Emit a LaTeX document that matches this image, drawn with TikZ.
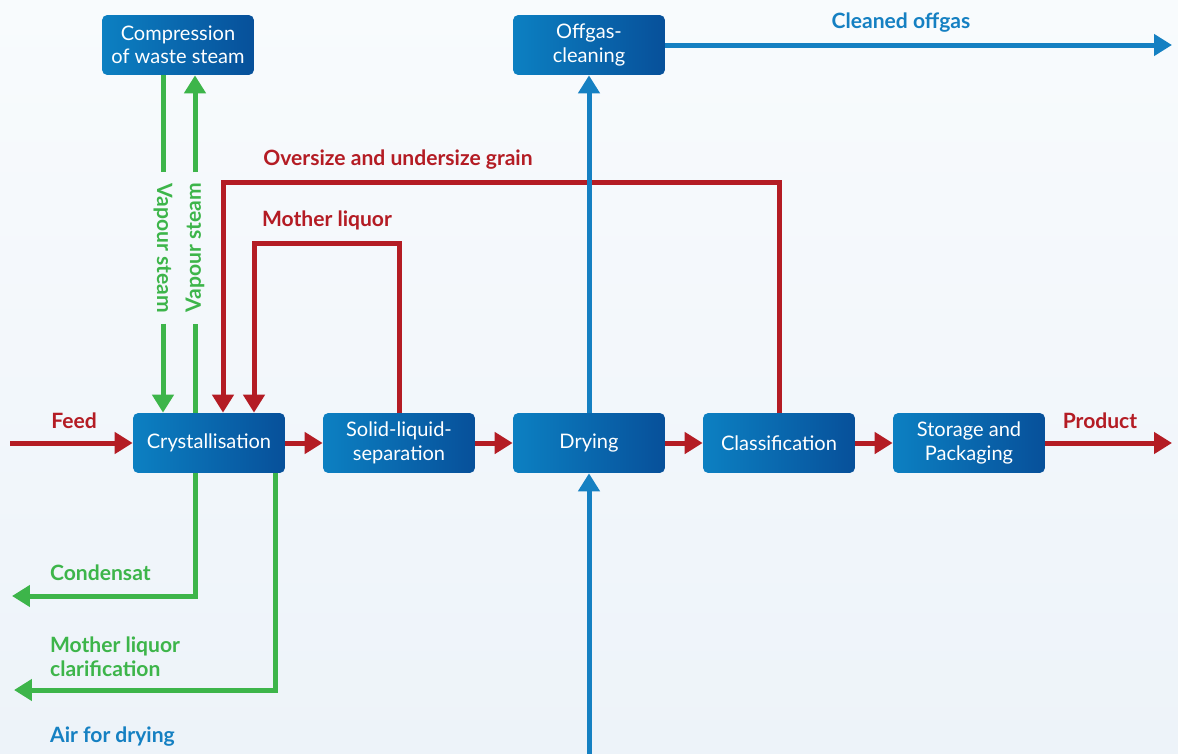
\documentclass[tikz,border=0pt]{standalone}
\usepackage{fontspec}
\setmainfont{Lato}
\usetikzlibrary{arrows.meta,positioning}
\definecolor{flowred}{HTML}{B41C24}
\definecolor{flowgreen}{HTML}{3DB54A}
\definecolor{flowblue}{HTML}{1580C2}
\definecolor{boxleft}{HTML}{0C80C2}
\definecolor{boxmid}{HTML}{0A72B7}
\definecolor{boxright}{HTML}{07509A}
\definecolor{bgtop}{HTML}{F8FBFD}
\definecolor{bgmid}{HTML}{DCE9F4}
\definecolor{bgbot}{HTML}{EDF3F9}
\begin{document}
\begin{tikzpicture}[x=0.02cm, y=-0.02cm,
    box/.style = {shape=rectangle, rounded corners=3pt, align=center,
      minimum width=3.04cm, minimum height=1.2cm, inner sep=1pt,
      left color=boxleft, middle color=boxmid, right color=boxright,
      text=white, font=\fontsize{11.4}{13.4}\selectfont},
    flow/.style = {line width=0.1cm, -{Triangle[length=0.36cm,width=0.42cm]}},
    plain/.style = {line width=0.1cm},
    lbl/.style = {font=\bfseries\fontsize{12}{13.6}\selectfont, align=left, inner sep=1pt}]
    % background
    \shade[top color=bgtop, middle color=bgmid, bottom color=bgbot]
      (0,0) rectangle (1178,754);
    \useasboundingbox (0,0) rectangle (1178,754);
    % process boxes
    \node[box] (comp)   at (178,45)  {Compression\\of waste steam};
    \node[box] (offgas) at (589,45)  {Offgas-\\cleaning};
    \node[box] (cryst)  at (209,443) {Crystallisation};
    \node[box] (slsep)  at (399,443) {Solid-liquid-\\separation};
    \node[box] (dry)    at (589,443) {Drying};
    \node[box] (class)  at (779,443) {Classification};
    \node[box] (store)  at (969,443) {Storage and\\Packaging};
    % free ends and bends
    \coordinate (feedin)  at (10,443);
    \coordinate (prodout) at (1172,443);
    \coordinate (airin)   at (589,754);
    \coordinate (offout)  at (1172,45);
    \coordinate (ov)      at (223,182);
    \coordinate (ml)      at (254,243);
    \coordinate (vd)      at (163,0);
    \coordinate (vu)      at (195,0);
    \coordinate (cd)      at (195,0);
    \coordinate (mc)      at (275,0);
    \coordinate (condout) at (12,596);
    \coordinate (mcout)   at (14,690);
    % main line
    \draw[flow, flowred] (feedin) -- (cryst);
    \draw[flow, flowred] (cryst) -- (slsep);
    \draw[flow, flowred] (slsep) -- (dry);
    \draw[flow, flowred] (dry) -- (class);
    \draw[flow, flowred] (class) -- (store);
    \draw[flow, flowred] (store) -- (prodout);
    \node[lbl, text=flowred] (feedlbl) at (74,421) {Feed};
    \node[lbl, text=flowred] (prodlbl) at (1100,421) {Product};
    % recycles
    \draw[flow, flowred] (class.north) |- (ov) -- (cryst.north -| ov);
    \draw[flow, flowred] (slsep.north) |- (ml) -- (cryst.north -| ml);
    \node[lbl, text=flowred] (ovlbl) at (398,160) {Oversize and undersize grain};
    \node[lbl, text=flowred] (mllbl) at (327,220) {Mother liquor};
    % vapour steam
    \node[lbl, text=flowgreen, rotate=-90, inner sep=6pt] (vdlbl) at (163,248) {Vapour steam};
    \node[lbl, text=flowgreen, rotate=90, inner sep=6pt] (vulbl) at (195,248) {Vapour steam};
    \draw[plain, flowgreen] (comp.south -| vd) -- (vdlbl);
    \draw[flow, flowgreen] (vdlbl) -- (cryst.north -| vd);
    \draw[plain, flowgreen] (cryst.north -| vu) -- (vulbl);
    \draw[flow, flowgreen] (vulbl) -- (comp.south -| vu);
    % outlets below
    \draw[flow, flowgreen] (cryst.south -| cd) |- (condout);
    \draw[flow, flowgreen] (cryst.south -| mc) |- (mcout);
    \node[lbl, text=flowgreen, anchor=west] (condlbl) at (48,573) {Condensat};
    \node[lbl, text=flowgreen, anchor=west] (mclbl) at (48,657) {Mother liquor\\clarification};
    % air and offgas
    \draw[flow, flowblue] (airin) -- (dry);
    \draw[flow, flowblue] (dry) -- (offgas);
    \draw[flow, flowblue] (offgas) -- (offout);
    \node[lbl, text=flowblue, anchor=west] (airlbl) at (48,737) {Air for drying};
    \node[lbl, text=flowblue] (offlbl) at (901,23) {Cleaned offgas};
\end{tikzpicture}
\end{document}
